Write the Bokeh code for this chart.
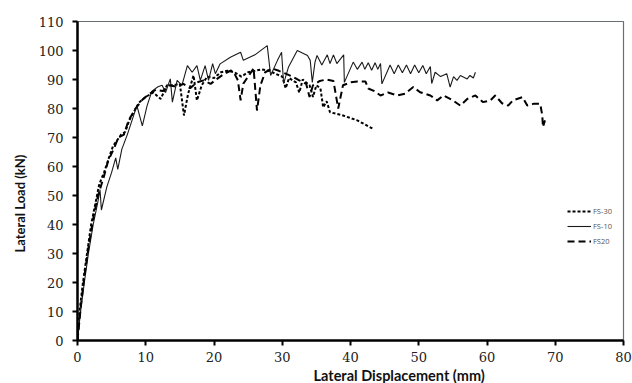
from bokeh.plotting import figure
from bokeh.models import Legend, LegendItem, Title, FixedTicker, Range1d
from bokeh.embed import file_html
from bokeh.resources import INLINE

# ---- data ----
fs10_x = [0, 0.4, 1.0, 1.6, 2.3, 3.0, 3.3, 3.5, 4.3, 5.0, 5.6, 5.9, 6.5, 7.3, 8.0, 8.7, 9.5, 10.2,
          10.9, 11.8, 12.4, 12.9, 13.6, 13.9, 14.6, 15.3, 16.1, 16.8, 17.5, 18.0, 18.7, 19.2, 19.8,
          20.2, 20.9, 22.4, 23.9, 24.3, 26.0, 27.8, 28.3, 29.3, 29.9, 30.2, 30.9, 32.2, 33.7, 34.1,
          34.4, 34.8, 35.1, 35.8, 36.6, 37.0, 37.5, 38.0, 39.0, 39.1, 40.4, 41.0, 41.7, 42.1, 42.6,
          43.1, 43.6, 44.0, 44.4, 44.6, 45.8, 46.4, 47.0, 47.6, 48.2, 48.8, 49.4, 50.0, 50.6, 51.1,
          51.7, 51.9, 52.4, 53.2, 54.1, 54.6, 55.1, 55.6, 56.1, 57.1, 57.5, 58.0, 58.3]
fs10_y = [0, 9, 20, 30, 40, 48, 52, 45, 53, 58, 63, 59, 66, 71, 76, 81, 74, 81,
          86, 87.5, 88, 85.5, 90.2, 82.2, 89.7, 88, 94.8, 92.5, 94.8, 89.7, 94.8, 89.7, 95.5,
          92, 95.4, 97.7, 99.4, 96.6, 98.5, 101.7, 91.4, 96.6, 99.4, 88.6, 94.2, 100, 98.3, 96.6,
          89, 96, 98.3, 95, 98.5, 95.5, 98.5, 95.5, 98.5, 89, 96, 93.5, 96, 93.5, 95.8,
          93.2, 95.8, 93.5, 95.5, 88.5, 95, 92, 95, 92.3, 95, 92, 95, 92.3, 94.8, 92,
          94.5, 88.6, 92.5, 91, 92, 87.4, 91, 89.7, 91.4, 90.2, 91.4, 90.5, 92.5]

fs30_x = [0, 0.3, 0.8, 1.4, 2.0, 2.6, 3.2, 3.9, 4.6, 5.2, 5.8, 6.4, 7.0, 7.6, 8.3, 9.0, 10.0, 11.1,
          12.2, 13.1, 14.0, 15.0, 15.6, 16.2, 17.0, 17.5, 18.2, 19.0, 20.0, 21.0, 22.0, 23.0, 24.0,
          25.0, 26.0, 27.0, 28.0, 29.0, 30.0, 30.5, 31.0, 32.0, 32.5, 33.0, 34.0, 34.5, 35.0, 35.6,
          36.0, 36.5, 37.0, 38.9, 41.0, 43.3]
fs30_y = [0, 10, 20, 30, 40, 47, 54, 58, 63, 67, 69, 71, 72, 76, 79, 82, 84, 85.5,
          83.3, 88, 88, 88.5, 77.6, 85, 91.4, 82.8, 88, 91, 90.5, 92.5, 93, 92.5, 91,
          92.5, 93, 93.5, 93, 92, 91, 87, 90.5, 89, 85.5, 90, 88, 84, 88, 86.9,
          80.4, 82.5, 78.7, 77.6, 75.9, 73]

fs20_x = [0, 0.5, 1.0, 1.6, 2.3, 3.0, 3.8, 4.5, 5.3, 6.0, 6.8, 7.5, 8.5, 9.5, 10.5, 11.5, 12.5,
          13.5, 14.5, 15.5, 16.5, 17.5, 18.5, 19.5, 20.5, 21.5, 22.5, 23.0, 23.5, 23.9, 24.3, 25.0,
          25.8, 26.3, 26.8, 27.5, 28.5, 29.5, 30.5, 31.5, 32.5, 33.5, 34.0, 34.5, 35.5, 36.5, 37.5,
          38.2, 38.9, 40.0, 41.0, 42.2, 42.6, 43.5, 44.4, 45.5, 46.9, 48.0, 49.2, 50.2, 51.7, 52.7,
          53.6, 55.0, 56.1, 57.1, 58.3, 59.4, 60.5, 61.2, 62.2, 63.1, 63.8, 65.2, 65.9, 66.8, 67.8,
          68.1, 68.2, 68.5]
fs20_y = [0, 12, 22, 32, 42, 50, 56, 62, 66, 70, 71, 76, 80, 83, 85, 86.5, 86,
          88, 87.5, 88.5, 87, 89, 89.7, 88.5, 90.3, 92, 93.1, 92, 89.7, 82.8, 88.6, 91,
          93.8, 79.3, 88, 92.5, 93.8, 93, 92, 91, 89.7, 88.5, 84, 88, 89.5, 90, 89.5,
          80, 88, 89, 89.3, 89.3, 86.9, 86, 84.5, 85.5, 84.5, 85.1, 87.4, 85.6, 84.5, 82.8,
          84.5, 82.8, 81, 83.3, 84.5, 82.2, 82.8, 84.5, 81.8, 81, 82.8, 83.9, 81, 81.6, 81.6,
          77.6, 73.6, 75.9]

x_ticks = [0, 10, 20, 30, 40, 50, 60, 70, 80]
y_ticks = [0, 10, 20, 30, 40, 50, 60, 70, 80, 90, 100, 110]
series_names = ["FS-30", "FS-10", "FS20"]
x_title = "Lateral Displacement (mm)"
y_title = "Lateral Load (kN)"

# ---- figure ----
p = figure(width=632, height=383, output_backend="svg", toolbar_location=None,
           x_range=Range1d(0, 80), y_range=Range1d(0, 110))
p.min_border_left = 77
p.min_border_right = 9
p.min_border_top = 21
p.min_border_bottom = 43
p.background_fill_color = "white"
p.border_fill_color = "white"
p.outline_line_color = "#6a6f75"
p.outline_line_width = 1.2
p.xgrid.visible = False
p.ygrid.visible = False

for ax, ticks in ((p.xaxis, x_ticks), (p.yaxis, y_ticks)):
    ax.ticker = FixedTicker(ticks=ticks)
    ax.axis_line_color = "black"
    ax.axis_line_width = 2.5
    ax.major_tick_line_color = "black"
    ax.major_tick_line_width = 2
    ax.major_tick_in = 0
    ax.major_tick_out = 5
    ax.minor_tick_line_color = None
    ax.major_label_text_font = "DejaVu Serif"
    ax.major_label_text_font_size = "13px"
    ax.major_label_text_color = "#222222"
p.xaxis.major_label_standoff = 6
p.yaxis.major_label_standoff = 9

r30 = p.line(fs30_x, fs30_y, line_color="black", line_width=2, line_dash="3 2")
r10 = p.line(fs10_x, fs10_y, line_color="#1a1a1a", line_width=1.1)
r20 = p.line(fs20_x, fs20_y, line_color="black", line_width=2, line_dash="7 4")

legend = Legend(items=[LegendItem(label=series_names[0], renderers=[r30]),
                       LegendItem(label=series_names[1], renderers=[r10]),
                       LegendItem(label=series_names[2], renderers=[r20])],
                location=(490, 94))
legend.background_fill_alpha = 0
legend.border_line_color = None
legend.label_text_font = "Open Sans"
legend.label_text_font_size = "7.5px"
legend.label_text_color = "#555555"
legend.glyph_width = 24
legend.glyph_height = 10
legend.label_standoff = 2
legend.spacing = 5
legend.padding = 0
legend.margin = 0
legend.label_height = 10
p.add_layout(legend)

xt = Title(text=x_title, align="left", offset=236, standoff=0,
           text_font="Lato", text_font_style="bold", text_font_size="14.5px", text_color="#111111")
yt = Title(text=y_title, align="left", offset=88, standoff=16,
           text_font="Lato", text_font_style="bold", text_font_size="13px", text_color="#111111")
p.add_layout(xt, "below")
p.add_layout(yt, "left")

open("out.html", "w").write(file_html(p, INLINE))
